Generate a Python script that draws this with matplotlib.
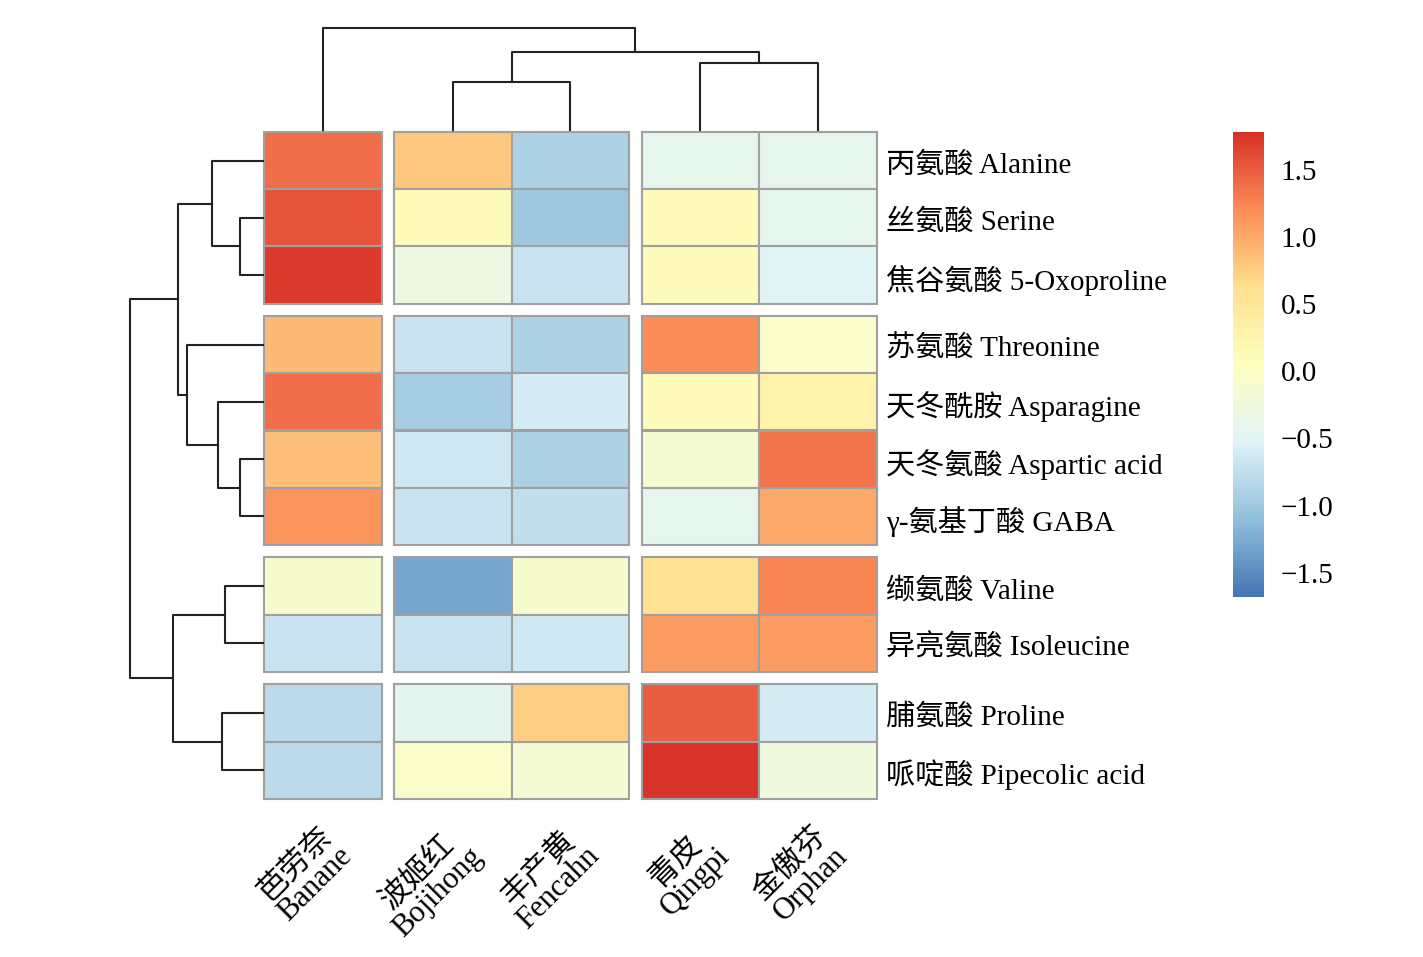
import matplotlib.pyplot as plt
import matplotlib as mpl
import numpy as np
from matplotlib.patches import Rectangle
from matplotlib.colors import LinearSegmentedColormap

plt.rcParams['font.family'] = ['Liberation Serif', 'Noto Sans CJK SC']

cols = ['芭劳奈\nBanane', '波姬红\nBojihong', '丰产黄\nFencahn', '青皮\nQingpi', '金傲芬\nOrphan']
rows = ['丙氨酸 Alanine', '丝氨酸 Serine', '焦谷氨酸 5-Oxoproline', '苏氨酸 Threonine',
        '天冬酰胺 Asparagine', '天冬氨酸 Aspartic acid', 'γ-氨基丁酸 GABA', '缬氨酸 Valine',
        '异亮氨酸 Isoleucine', '脯氨酸 Proline', '哌啶酸 Pipecolic acid']
values = np.array([
    [1.40, 0.80, -0.90, -0.40, -0.40],
    [1.55, 0.10, -1.00, 0.10, -0.40],
    [1.72, -0.30, -0.70, 0.10, -0.50],
    [0.90, -0.70, -0.90, 1.20, -0.05],
    [1.40, -0.95, -0.60, 0.10, 0.30],
    [0.85, -0.65, -0.90, -0.15, 1.35],
    [1.15, -0.70, -0.75, -0.40, 1.00],
    [-0.10, -1.30, -0.10, 0.60, 1.25],
    [-0.70, -0.70, -0.65, 1.10, 1.10],
    [-0.80, -0.45, 0.75, 1.50, -0.60],
    [-0.80, -0.05, -0.15, 1.75, -0.25],
])
col_groups = [0, 1, 1, 2, 2]
row_groups = [0, 0, 0, 1, 1, 1, 1, 2, 2, 3, 3]
# dendrograms: (left, right, height)
col_tree = (0, ((1, 2, 48), (3, 4, 67), 78), 102)
row_tree = (((0, (1, 2, 23), 51), (3, (4, (5, 6, 23), 45), 76), 85),
            ((7, 8, 38), (9, 10, 41), 90), 133)

W, H = 1423, 957
fig = plt.figure(figsize=(W / 100, H / 100), dpi=100)
ax = fig.add_axes([0, 0, 1, 1])
ax.set_xlim(0, W)
ax.set_ylim(H, 0)
ax.axis('off')

cmap = LinearSegmentedColormap.from_list('rdylbu7', ['#4575b4', '#91bfdb', '#e0f3f8', '#ffffbf',
                                                    '#fee090', '#fc8d59', '#d73027'])
norm = mpl.colors.Normalize(vmin=-1.68, vmax=1.78)
x0, y0, cw, rh, gap = 264, 132, 117.5, 57.2, 12.5
cx = [x0 + j * cw + col_groups[j] * gap for j in range(len(cols))]
ry = [y0 + i * rh + row_groups[i] * gap for i in range(len(rows))]

for i in range(len(rows)):
    for j in range(len(cols)):
        ax.add_patch(Rectangle((cx[j], ry[i]), cw, rh, facecolor=cmap(norm(values[i, j])),
                               edgecolor='#a0a0a0', lw=1.5))
for i, r in enumerate(rows):
    ax.text(886, ry[i] + rh / 2 + 5, r, fontsize=21, va='center', ha='left')
for j, c in enumerate(cols):
    ax.text(cx[j] + cw / 2 - 5, 822, c, fontsize=22, rotation=45, rotation_mode='anchor',
            ha='right', va='top', multialignment='center', linespacing=0.95)

def draw(node, pos, base, horiz):
    if isinstance(node, int):
        return pos[node], 0
    l, r, h = node
    pl, hl = draw(l, pos, base, horiz)
    pr, hr = draw(r, pos, base, horiz)
    if horiz:
        ax.plot([base - hl, base - h, base - h, base - hr], [pl, pl, pr, pr], color='#222', lw=1.5)
    else:
        ax.plot([pl, pl, pr, pr], [base - hl, base - h, base - h, base - hr], color='#222', lw=1.5)
    return (pl + pr) / 2, h

draw(col_tree, [x + cw / 2 for x in cx], 130, False)
draw(row_tree, [y + rh / 2 for y in ry], 263, True)

cax = fig.add_axes([1233 / W, 1 - 597 / H, 31 / W, 465 / H])
cb = mpl.colorbar.ColorbarBase(cax, cmap=cmap, norm=norm, ticks=[-1.5, -1, -0.5, 0, 0.5, 1, 1.5])
cb.outline.set_visible(False)
cb.ax.tick_params(length=0, labelsize=21, pad=12)
cb.ax.set_yticklabels(['−1.5', '−1.0', '−0.5', '0.0', '0.5', '1.0', '1.5'])

fig.savefig('out.png', dpi=100)
